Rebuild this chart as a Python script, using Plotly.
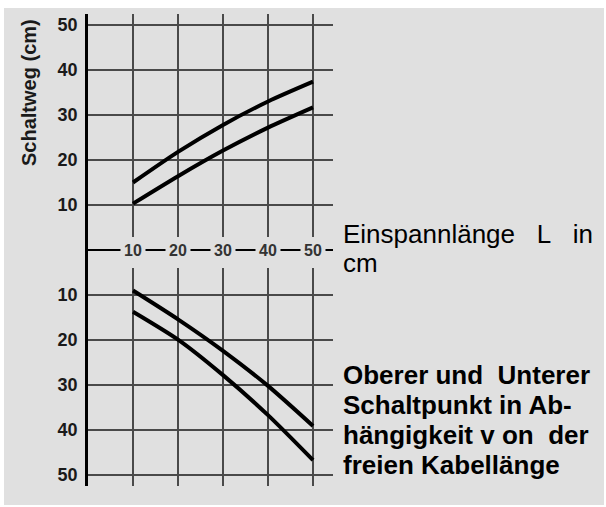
import plotly.graph_objects as go

# ---- data ----
laenge = [10, 20, 30, 40, 50]                 # Einspannlänge L (cm)
oben_oberer = [15.0, 21.8, 27.8, 33.0, 37.4]  # upper panel, upper curve (Schaltweg cm)
oben_unterer = [10.3, 16.4, 22.1, 27.2, 31.7] # upper panel, lower curve
unten_oberer = [9.0, 15.4, 22.4, 30.2, 39.1]  # lower panel, curve nearer the axis
unten_unterer = [13.7, 19.9, 27.8, 36.7, 46.7]# lower panel, farther curve
y_ticks = [10, 20, 30, 40, 50]
x_ticks = [10, 20, 30, 40, 50]

BG = "#e0e0e0"
GRID = "#4a4a4a"
FONT = "Arial, Liberation Sans, sans-serif"

fig = go.Figure()
for ys, sign in [(oben_oberer, 1), (oben_unterer, 1), (unten_oberer, -1), (unten_unterer, -1)]:
    fig.add_trace(go.Scatter(
        x=laenge, y=[sign * v for v in ys], mode="lines",
        line=dict(color="black", width=4, shape="spline", smoothing=0.7),
        hoverinfo="skip", showlegend=False))

tickvals = [-v for v in y_ticks[::-1]] + y_ticks
ticktext = [str(abs(v)) for v in tickvals]

W, H = 606, 507
ml, mr, mt, mb = 88, 273, 14, 21
pw, ph = W - ml - mr, H - mt - mb

def px_x(q):
    return (q - ml) / pw

def px_y(p):
    return (H - mb - p) / ph

fig.update_layout(
    width=W, height=H,
    margin=dict(l=ml, r=mr, t=mt, b=mb, pad=0),
    paper_bgcolor="white",
    plot_bgcolor="rgba(0,0,0,0)",
    font=dict(family=FONT, color="#111"),
    xaxis=dict(range=[0, 54.44], tickvals=x_ticks, showticklabels=False,
               showgrid=True, gridcolor=GRID, gridwidth=2, zeroline=False,
               showline=False, ticks="", fixedrange=True),
    yaxis=dict(range=[-52.44, 52.44], tickvals=tickvals, ticktext=ticktext,
               showgrid=True, gridcolor=GRID, gridwidth=2,
               zeroline=True, zerolinecolor="black", zerolinewidth=2,
               showline=True, linecolor="black", linewidth=2.5,
               ticks="", ticklabelstandoff=4,
               tickfont=dict(family=FONT, size=18, color="#1a1a1a", weight="bold"),
               fixedrange=True),
)

# gray page background
fig.add_shape(type="rect", xref="paper", yref="paper",
              x0=px_x(4), x1=px_x(604), y0=px_y(505), y1=px_y(8),
              fillcolor=BG, line_width=0, layer="below")
# gap in the vertical grid around the central scale
for y0, y1 in [(0.3, 2.9), (-4.0, -0.3)]:
    fig.add_shape(type="rect", xref="x", yref="y", x0=0.6, x1=54.44, y0=y0, y1=y1,
                  fillcolor=BG, line_width=0, layer="between")

# central x scale labels sitting on the zero line
for xv in x_ticks:
    fig.add_annotation(x=xv, y=0, xref="x", yref="y", text=str(xv), showarrow=False,
                       bgcolor=BG, borderpad=3,
                       font=dict(family=FONT, size=16, color="#333", weight="bold"))

# y axis title
fig.add_annotation(x=px_x(29), y=px_y(93), xref="paper", yref="paper",
                   text="Schaltweg (cm)", textangle=-90, showarrow=False,
                   xanchor="center", yanchor="middle",
                   font=dict(family=FONT, size=20, color="#1a1a1a", weight="bold"))

# right-hand texts
right_lines = [
    ("Einspannlänge\u00a0\u00a0\u00a0L\u00a0\u00a0\u00a0in", 233.5, "normal"),
    ("cm", 262.5, "normal"),
    ("Oberer und\u00a0\u00a0Unterer", 374.5, "bold"),
    ("Schaltpunkt in Ab-", 404.5, "bold"),
    ("hängigkeit v on\u00a0\u00a0der", 434.5, "bold"),
    ("freien Kabellänge", 464.5, "bold"),
]
for txt, yc, wt in right_lines:
    fig.add_annotation(x=px_x(341), y=px_y(yc), xref="paper", yref="paper",
                       text=txt, showarrow=False, xanchor="left", yanchor="middle",
                       font=dict(family=FONT, size=26, color="black", weight=wt))

fig.write_html("out.html", config={"displayModeBar": False},
               post_script="document.body.style.margin='0px';")
